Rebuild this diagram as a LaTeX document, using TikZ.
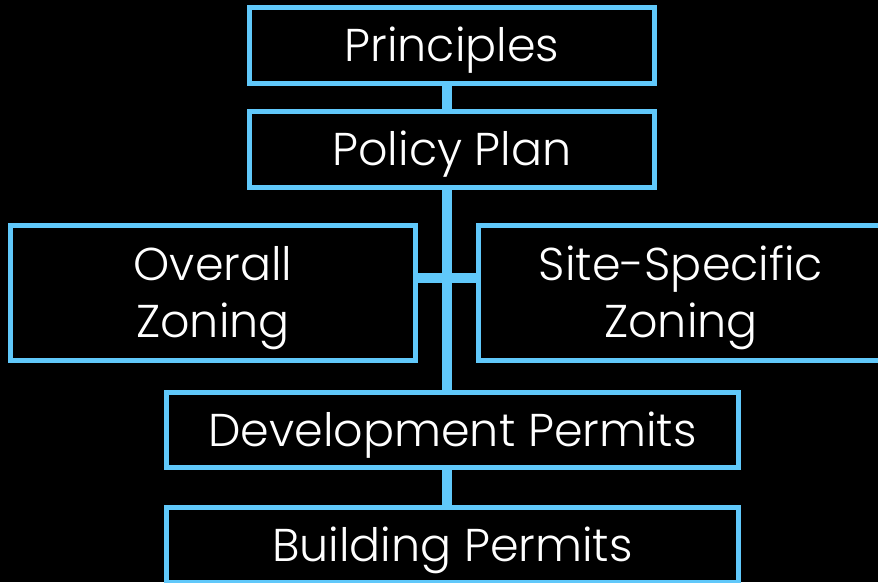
\documentclass[tikz,border=0pt]{standalone}
\usepackage{fontspec}
\setmainfont{Poppins}[UprightFont=* Light]
\definecolor{boxblue}{RGB}{96,200,250}
\begin{document}
\begin{tikzpicture}[x=1pt,y=-1pt,
  box/.style={draw=boxblue, line width=5pt, fill=black, text=white,
    inner sep=0pt, font=\fontsize{46}{57}\selectfont},
  onel/.style={text height=32pt, text depth=0pt},
  twol/.style={align=center, text height=89pt, text depth=0pt},
  conn/.style={draw=boxblue, line width=10pt}]
\fill[black] (0,0) rectangle (878,582);
\useasboundingbox (0,0) rectangle (878,582);
\coordinate (trunk) at (447,0);
\coordinate (bar) at (0,278);
% boxes
\node[box,onel,minimum width=405pt,minimum height=76pt] (prin) at (452,45.5) {Principles};
\node[box,onel,minimum width=405pt,minimum height=76pt] (pol) at (452,149.5) {Policy Plan};
\node[box,twol,minimum width=405pt,minimum height=135pt] (ov) at (213,293) {Overall\\Zoning};
\node[box,twol,minimum width=405pt,minimum height=135pt] (site) at (681,293) {Site-Specific\\Zoning};
\node[box,onel,minimum width=572pt,minimum height=75pt] (dev) at (452.5,430) {Development Permits};
\node[box,onel,minimum width=572pt,minimum height=75pt] (bld) at (452.5,545) {Building Permits};
% connectors
\draw[conn] (prin.south -| trunk) -- (pol.north -| trunk);
\draw[conn] (pol.south -| trunk) -- (dev.north -| trunk);
\draw[conn] (ov.east |- bar) -- (site.west |- bar);
\draw[conn] (dev.south -| trunk) -- (bld.north -| trunk);
\end{tikzpicture}
\end{document}
